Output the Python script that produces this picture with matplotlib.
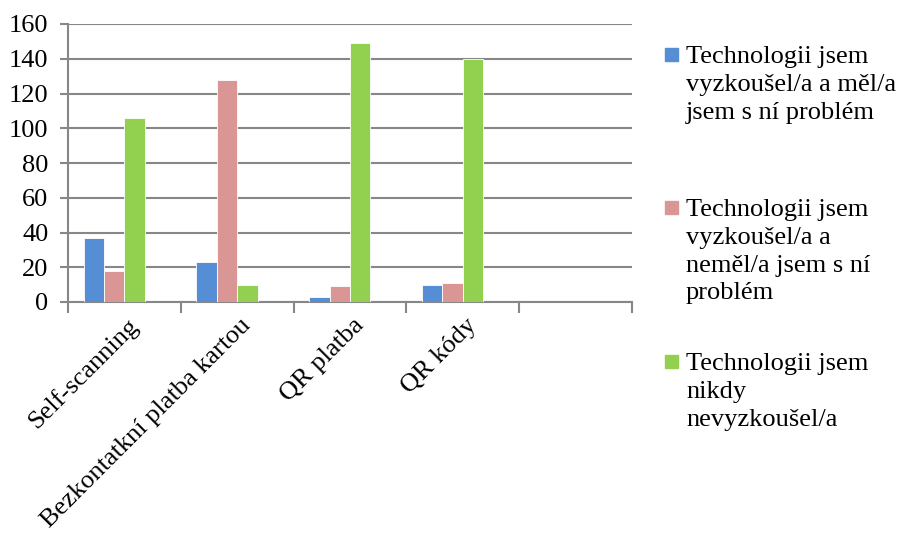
import matplotlib
matplotlib.use("Agg")
import matplotlib.pyplot as plt
from matplotlib.patches import Rectangle
import numpy as np

plt.rcParams['font.family'] = ['Liberation Serif', 'DejaVu Serif']

categories = ["Self-scanning", "Bezkontatkní platba kartou", "QR platba", "QR kódy", ""]
series_names = [
    "Technologii jsem\nvyzkoušel/a a měl/a\njsem s ní problém",
    "Technologii jsem\nvyzkoušel/a a\nneměl/a jsem s ní\nproblém",
    "Technologii jsem\nnikdy\nnevyzkoušel/a",
]
had_problem = [37, 23, 3, 10, None]
no_problem = [18, 128, 9, 11, None]
never_tried = [106, 10, 149, 140, None]
colors = ["#558ED5", "#D99694", "#92D050"]
y_ticks = [0, 20, 40, 60, 80, 100, 120, 140, 160]

W, H = 899, 536
fig = plt.figure(figsize=(W / 100, H / 100), dpi=100)

def fx(px):
    return px / W

def fy(py):
    return 1 - py / H

left, right, top, bottom = 68, 632, 24, 302
ax = fig.add_axes([fx(left), fy(bottom), fx(right) - fx(left), fy(top) - fy(bottom)])

n = len(categories)
slot = 0.181
for j, vals in enumerate([had_problem, no_problem, never_tried]):
    xs, hs = [], []
    for i, v in enumerate(vals):
        if v is None:
            continue
        xs.append(i + (j - 1.5) * slot)
        hs.append(v)
    ax.bar(xs, hs, width=slot, color=colors[j], edgecolor="white", linewidth=0.6, zorder=3)

FS = 19
ax.set_xlim(-0.5, n - 0.5)
ax.set_ylim(0, 160)
ax.set_yticks(y_ticks)
ax.set_yticklabels([str(t) for t in y_ticks], fontsize=FS)
ax.grid(axis="y", color="#878787", linewidth=1.5, zorder=0)
ax.set_axisbelow(True)

# category boundaries carry the tick marks
ax.set_xticks(np.arange(n + 1) - 0.5)
ax.set_xticklabels([])
ax.tick_params(axis="x", length=8, width=1.5, color="#878787", direction="out")
ax.tick_params(axis="y", length=6, width=1.5, color="#878787", direction="out", pad=8)

for i, lab in enumerate(categories):
    if lab:
        ax.text(i + 0.02, -7, lab, rotation=45, rotation_mode="anchor",
                ha="right", va="top", fontsize=FS, transform=ax.transData)

for s in ["top", "right"]:
    ax.spines[s].set_visible(False)
for s in ["left", "bottom"]:
    ax.spines[s].set_color("#878787")
    ax.spines[s].set_linewidth(1.5)

# legend drawn entry by entry
entry_tops = [46, 199, 353]
for j, (name, top_px) in enumerate(zip(series_names, entry_tops)):
    fig.patches.append(Rectangle((fx(665), fy(top_px + 15)), fx(13), 13 / H,
                                 transform=fig.transFigure, color=colors[j]))
    fig.text(fx(686), fy(top_px), name, fontsize=FS, va="top", ha="left",
             linespacing=1.34)

fig.savefig("out.png", dpi=100)
